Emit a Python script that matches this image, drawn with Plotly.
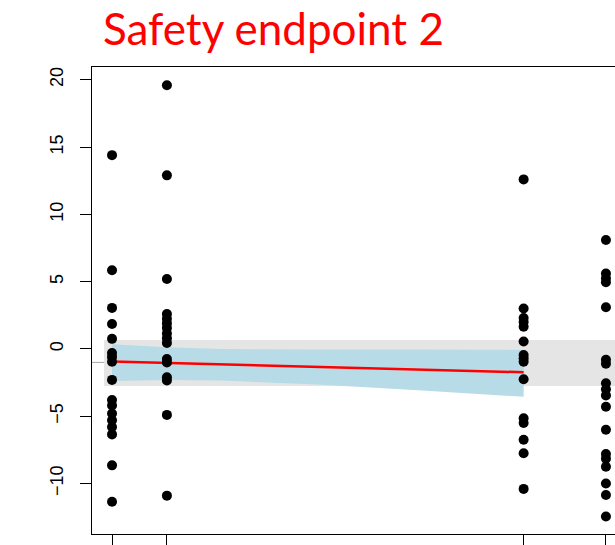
import plotly.graph_objects as go

# ---- data ----
visit_times = [0, 4, 30, 36]

vals_t0 = [14.4, 5.85, 3.05, 1.85, 0.75, -0.3, -0.6, -0.95, -2.3, -3.8, -4.2,
           -4.8, -5.3, -5.8, -6.35, -8.65, -11.35]
vals_t4 = [19.6, 12.9, 5.2, 2.6, 2.25, 1.9, 1.55, 1.15, 0.8, 0.45, -0.75, -1.0,
           -2.1, -2.35, -4.9, -10.9]
vals_t30 = [12.6, 3.0, 2.3, 2.0, 1.65, 0.55, -0.45, -0.7, -0.95, -2.25, -5.15,
            -5.5, -6.75, -7.75, -10.4]
vals_t36 = [8.1, 5.6, 5.25, 4.95, 3.1, -0.8, -1.1, -2.55, -3.0, -3.45, -4.3,
            -6.0, -7.8, -8.15, -8.75, -10.0, -10.85, -12.45]

band_t = [0, 4, 8, 15, 22, 30]
band_upper = [0.35, 0.12, 0.0, -0.05, -0.05, -0.07]
band_lower = [-2.38, -2.3, -2.35, -2.65, -3.05, -3.55]

fit_t = [0, 30]
fit_y = [-0.94, -1.73]

ref_low, ref_high = -2.75, 0.67
ref_line = -1.0

y_ticks = [-10, -5, 0, 5, 10, 15, 20]

# ---- build figure ----
fig = go.Figure()

# blue confidence band
fig.add_trace(go.Scatter(
    x=band_t + band_t[::-1],
    y=band_upper + band_lower[::-1],
    fill="toself", fillcolor="#b7dbe7", mode="none",
    hoverinfo="skip", showlegend=False))

# fitted line
fig.add_trace(go.Scatter(
    x=fit_t, y=fit_y, mode="lines",
    line=dict(color="#ff0000", width=2.5), showlegend=False))

# points
xs, ys = [], []
for t, vals in zip(visit_times, [vals_t0, vals_t4, vals_t30, vals_t36]):
    xs += [t] * len(vals)
    ys += vals
fig.add_trace(go.Scatter(
    x=xs, y=ys, mode="markers",
    marker=dict(color="black", size=10, line=dict(width=0)),
    showlegend=False, cliponaxis=False))

# grey reference band and line
fig.add_shape(type="rect", xref="x", yref="y", x0=-0.58, x1=40,
              y0=ref_low, y1=ref_high, fillcolor="#e5e5e5",
              line=dict(width=0), layer="below")
fig.add_shape(type="line", xref="paper", yref="y", x0=0, x1=1,
              y0=ref_line, y1=ref_line,
              line=dict(color="#a8a8a8", width=1), layer="below")

fig.add_annotation(
    text="Safety endpoint 2", xref="paper", yref="paper",
    x=(101 - 92) / (615 - 92), y=(534 - 28) / 467,
    xanchor="left", yanchor="middle", showarrow=False,
    font=dict(family="Lato, Open Sans, sans-serif", size=44, color="#ff0000"))

fig.update_layout(
    width=615, height=545,
    margin=dict(l=92, r=0, t=67, b=11),
    paper_bgcolor="white", plot_bgcolor="white",
    font=dict(family="Liberation Sans, Arial, sans-serif", color="black"),
    xaxis=dict(range=[-1.46, 36.66], tickvals=visit_times,
               showticklabels=False, ticks="outside", ticklen=12,
               tickcolor="black", showline=True, linecolor="black",
               linewidth=1, mirror=True, showgrid=False, zeroline=False),
    yaxis=dict(range=[-13.75, 20.95], tickvals=y_ticks,
               ticks="outside", ticklen=11, tickcolor="black",
               tickangle=-90, tickfont=dict(size=18),
               ticklabelstandoff=10,
               showline=True, linecolor="black", linewidth=1,
               mirror=False, showgrid=False, zeroline=False),
)

fig.write_html(
    "out.html",
    config={"displayModeBar": False},
    post_script="document.body.style.margin='0';"
                "document.body.style.overflow='hidden';")
